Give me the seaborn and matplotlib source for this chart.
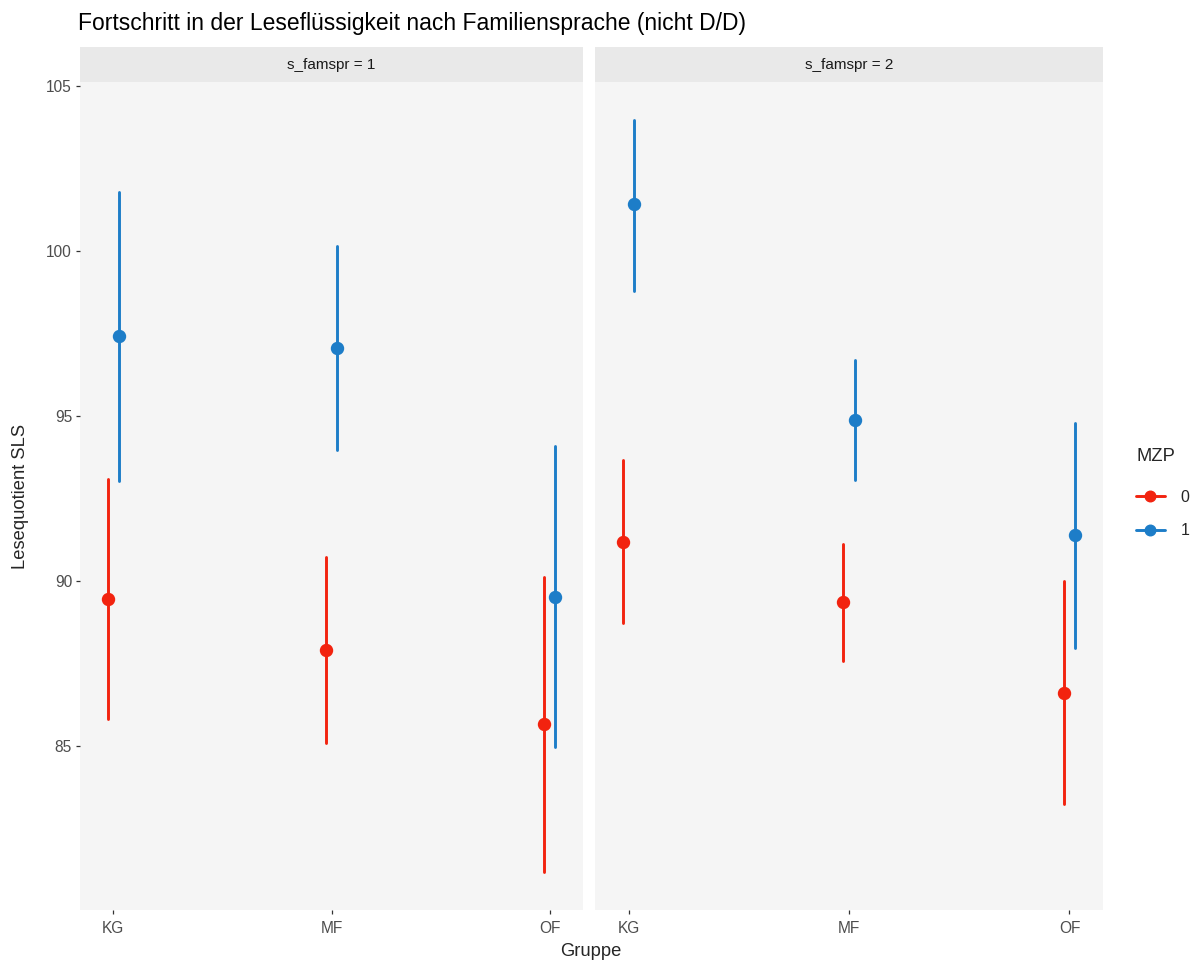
import numpy as np
import pandas as pd
import matplotlib
matplotlib.use("Agg")
import matplotlib.pyplot as plt
from matplotlib.lines import Line2D
import seaborn as sns

# ---------------- data ----------------
groups = ["KG", "MF", "OF"]
mzp_levels = ["0", "1"]
facet_levels = [1, 2]

mean_fam1_mzp0 = [89.45, 87.91, 85.66]
lo_fam1_mzp0 = [85.81, 85.08, 81.16]
hi_fam1_mzp0 = [93.08, 90.71, 90.12]
mean_fam1_mzp1 = [97.42, 97.07, 89.50]
lo_fam1_mzp1 = [93.03, 93.97, 84.95]
hi_fam1_mzp1 = [101.79, 100.17, 94.09]

mean_fam2_mzp0 = [91.19, 89.36, 86.60]
lo_fam2_mzp0 = [88.72, 87.58, 83.23]
hi_fam2_mzp0 = [93.67, 91.11, 90.00]
mean_fam2_mzp1 = [101.42, 94.87, 91.39]
lo_fam2_mzp1 = [98.79, 93.06, 87.98]
hi_fam2_mzp1 = [103.99, 96.69, 94.80]

y_ticks = [85, 90, 95, 100, 105]

title = "Fortschritt in der Leseflüssigkeit nach Familiensprache (nicht D/D)"
xlabel = "Gruppe"
ylabel = "Lesequotient SLS"
legend_title = "MZP"

# ---------------- long table: lo / mean / hi rows -> median + full range ----------------
series = {
    (1, "0"): (mean_fam1_mzp0, lo_fam1_mzp0, hi_fam1_mzp0),
    (1, "1"): (mean_fam1_mzp1, lo_fam1_mzp1, hi_fam1_mzp1),
    (2, "0"): (mean_fam2_mzp0, lo_fam2_mzp0, hi_fam2_mzp0),
    (2, "1"): (mean_fam2_mzp1, lo_fam2_mzp1, hi_fam2_mzp1),
}
rows = []
for (fam, mzp), (m, lo, hi) in series.items():
    for g, a, b, c in zip(groups, lo, m, hi):
        for v in (a, b, c):
            rows.append({"s_famspr": fam, "MZP": mzp, "Gruppe": g, "value": v})
df = pd.DataFrame(rows)

# ---------------- style ----------------
sns.set_theme(style="white")
plt.rcParams["font.family"] = ["Liberation Sans", "DejaVu Sans"]

RED = "#F2230F"
BLUE = "#1D7DC8"
palette = {"0": RED, "1": BLUE}
PANEL_BG = "#F5F5F5"
STRIP_BG = "#E9E9E9"

W, H = 1192, 967
fig = plt.figure(figsize=(W / 100, H / 100), dpi=100)
fig.patch.set_facecolor("white")

def frac_box(x0, y0, x1, y1):
    return [x0 / W, 1 - y1 / H, (x1 - x0) / W, (y1 - y0) / H]

panel_px = [(80, 82, 583, 910), (595, 82, 1103, 910)]
strip_px = [(80, 47, 583, 82), (595, 47, 1103, 82)]

ymin = min(min(v) for v in (lo_fam1_mzp0, lo_fam1_mzp1, lo_fam2_mzp0, lo_fam2_mzp1))
ymax = max(max(v) for v in (hi_fam1_mzp0, hi_fam1_mzp1, hi_fam2_mzp0, hi_fam2_mzp1))
pad = (ymax - ymin) * 0.05

MS = 7.6
LW = 2.1

for i, fam in enumerate(facet_levels):
    ax = fig.add_axes(frac_box(*panel_px[i]))
    sub = df[df["s_famspr"] == fam]
    sns.pointplot(
        data=sub, x="Gruppe", y="value", hue="MZP",
        order=groups, hue_order=mzp_levels, palette=palette,
        estimator="median", errorbar=("pi", 100),
        dodge=0.05, linestyle="none", markers="o",
        markersize=MS, err_kws={"linewidth": LW},
        ax=ax, legend=False,
    )
    ax.set_facecolor(PANEL_BG)
    for s in ax.spines.values():
        s.set_visible(False)
    ax.set_xlim(-0.152, 2.152)
    ax.set_ylim(ymin - pad, ymax + pad)
    ax.set_yticks(y_ticks)
    ax.set_xlabel("")
    ax.set_ylabel("")
    ax.tick_params(axis="x", which="both", bottom=True, length=3.2, width=0.9,
                   color="#333333", labelsize=11.2, labelcolor="#4D4D4D", pad=5)
    if i == 0:
        ax.tick_params(axis="y", left=True, length=3.2, width=0.9,
                       color="#333333", labelsize=11.2, labelcolor="#4D4D4D", pad=2.5)
    else:
        ax.tick_params(axis="y", left=False, labelleft=False)
    ax.grid(False)

    sax = fig.add_axes(frac_box(*strip_px[i]))
    sax.set_facecolor(STRIP_BG)
    sax.set_xticks([])
    sax.set_yticks([])
    for s in sax.spines.values():
        s.set_visible(False)
    sax.text(0.5, 0.5, f"s_famspr = {fam}", ha="center", va="center",
             fontsize=11, color="#1A1A1A", transform=sax.transAxes)

# titles / labels
fig.text(78 / W, 1 - 30 / H, title, fontsize=16.5, color="black",
         ha="left", va="baseline")
fig.text(591 / W, 1 - 951 / H, xlabel, fontsize=13.2, ha="center", va="center")
fig.text(21 / W, 1 - 496 / H, ylabel, fontsize=13.2, rotation=90,
         ha="center", va="center")

# legend
handles = [Line2D([0], [0], color=palette[l], marker="o", markersize=MS,
                  linewidth=LW) for l in mzp_levels]
leg = fig.legend(handles, mzp_levels, title=legend_title, loc="upper left",
                 bbox_to_anchor=(1136 / W, 1 - 448 / H), frameon=False,
                 fontsize=11.5, title_fontsize=13.2, handlelength=1.8,
                 handletextpad=1.0, labelspacing=1.15, borderaxespad=0,
                 borderpad=0, alignment="left")
leg._legend_box.sep = 18

fig.savefig("out.png", dpi=100, facecolor="white")
